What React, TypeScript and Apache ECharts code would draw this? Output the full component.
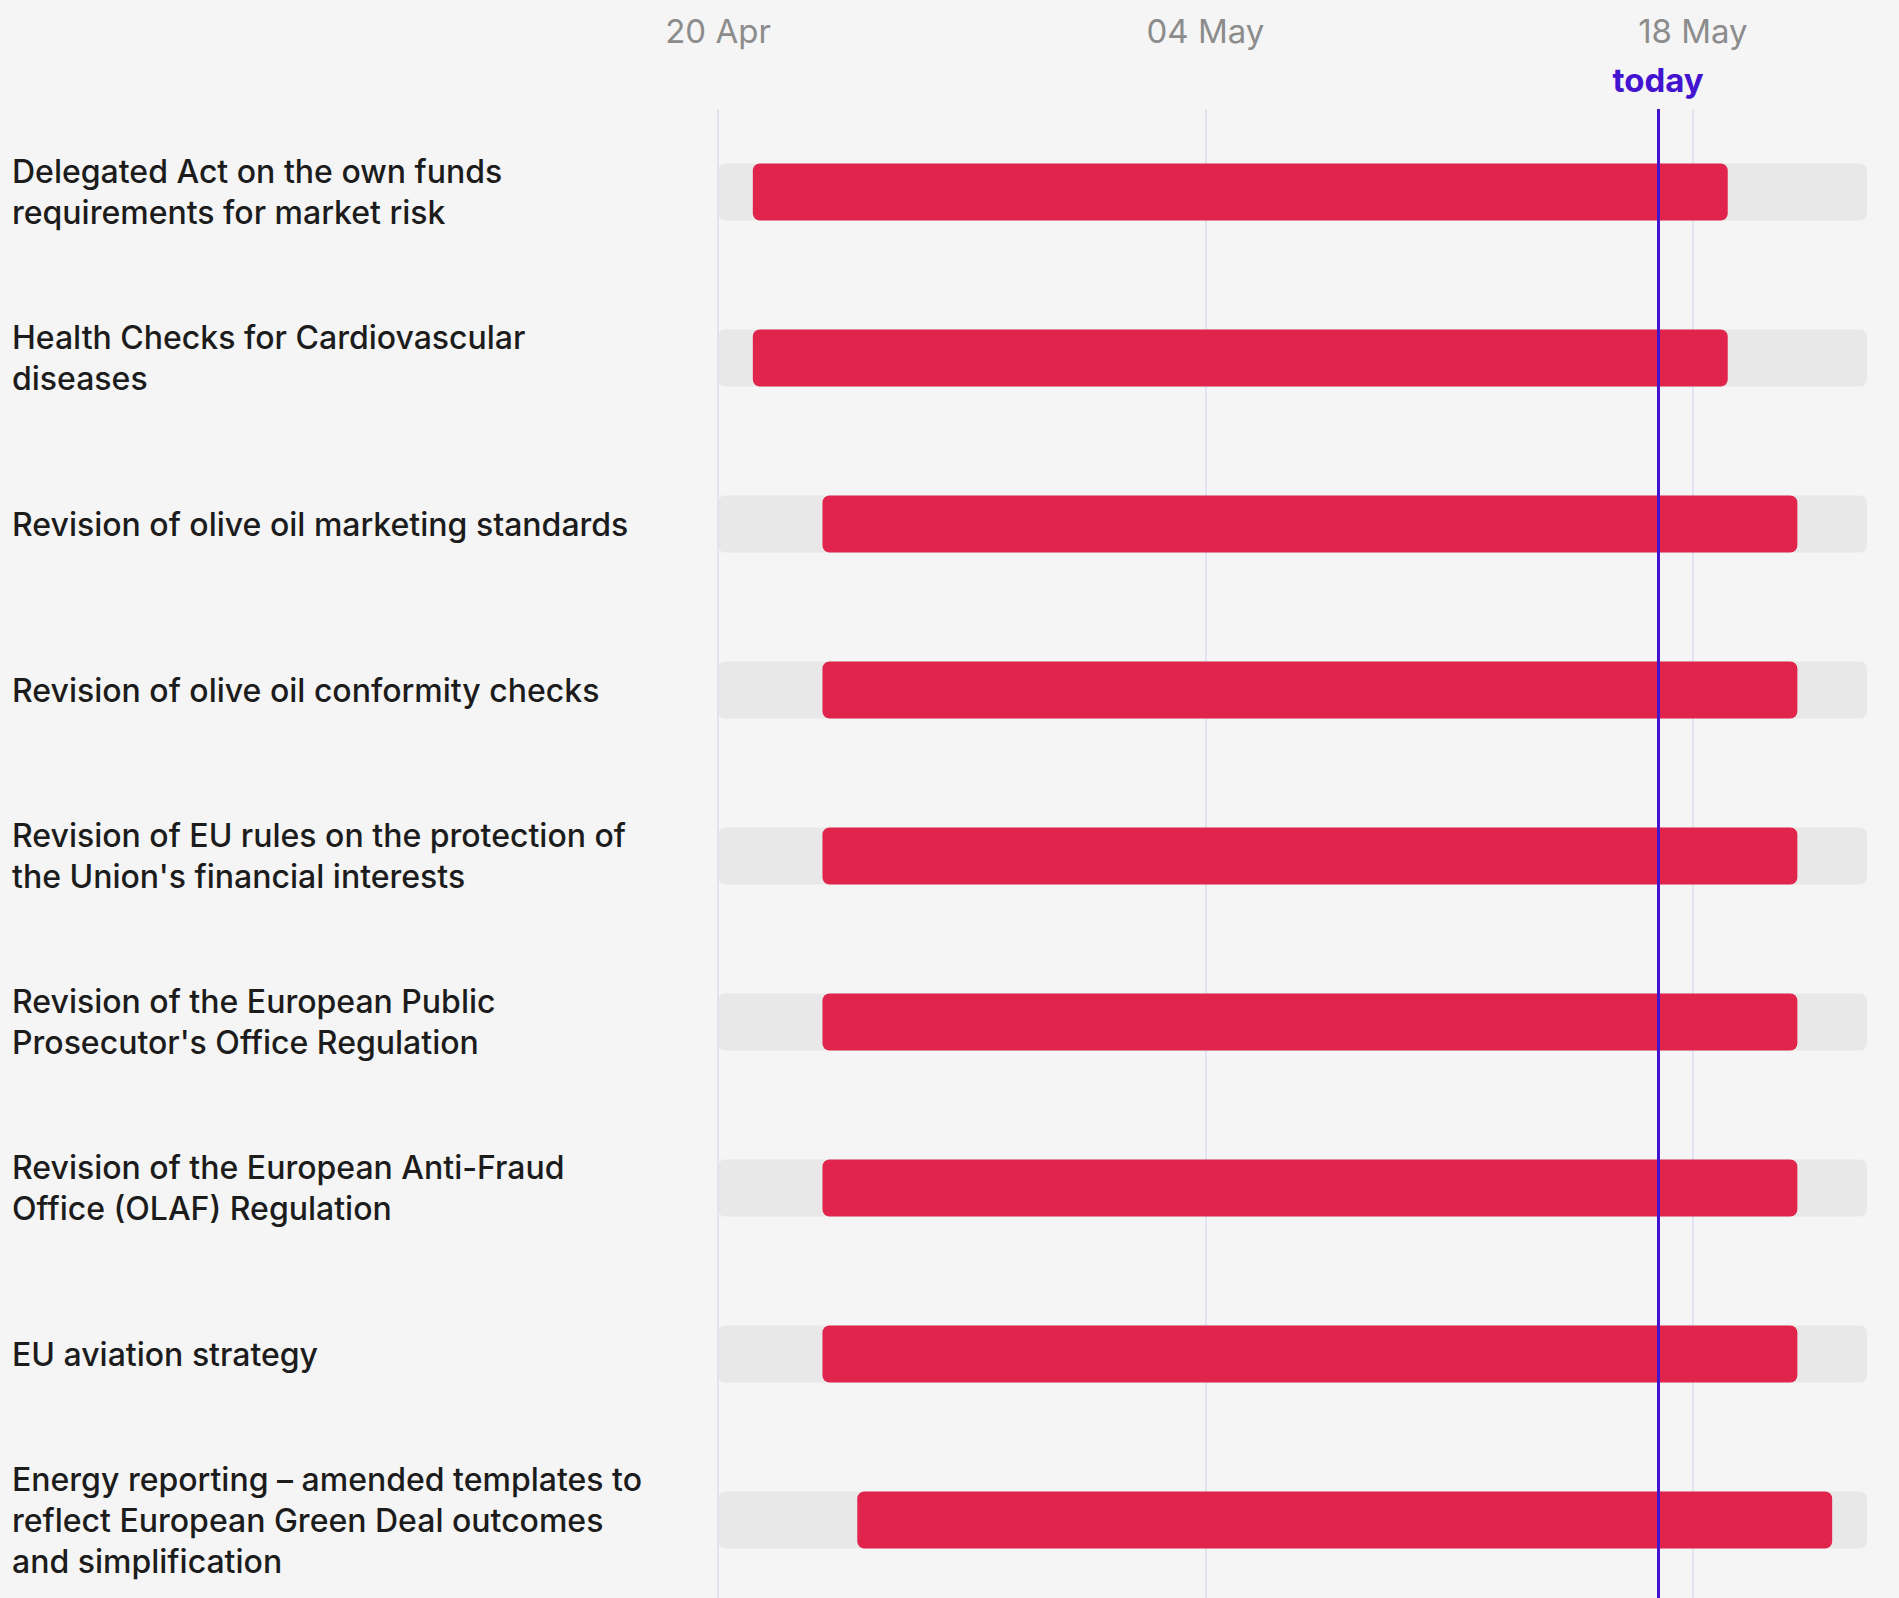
import React, { useEffect, useRef } from "react";
import * as echarts from "echarts";

const categories = [
  "Delegated Act on the own funds\nrequirements for market risk",
  "Health Checks for Cardiovascular\ndiseases",
  "Revision of olive oil marketing standards",
  "Revision of olive oil conformity checks",
  "Revision of EU rules on the protection of\nthe Union's financial interests",
  "Revision of the European Public\nProsecutor's Office Regulation",
  "Revision of the European Anti-Fraud\nOffice (OLAF) Regulation",
  "EU aviation strategy",
  "Energy reporting – amended templates to\nreflect European Green Deal outcomes\nand simplification",
];
const startDates = [
  "2025-04-21", "2025-04-21", "2025-04-23", "2025-04-23", "2025-04-23",
  "2025-04-23", "2025-04-23", "2025-04-23", "2025-04-24",
];
const endDates = [
  "2025-05-19", "2025-05-19", "2025-05-21", "2025-05-21", "2025-05-21",
  "2025-05-21", "2025-05-21", "2025-05-21", "2025-05-22",
];
const axisStart = "2025-04-20";
const axisEnd = "2025-05-23";
const tickDates = ["2025-04-20", "2025-05-04", "2025-05-18"];
const todayDate = "2025-05-17";
const todayLabel = "today";
const MONTHS = ["Jan", "Feb", "Mar", "Apr", "May", "Jun", "Jul", "Aug", "Sep", "Oct", "Nov", "Dec"];

const DAY = 86400000;
const dayOf = (s: string) => (Date.parse(s) - Date.parse(axisStart)) / DAY;
const fmt = (v: number) => {
  const d = new Date(Date.parse(axisStart) + v * DAY);
  const dd = String(d.getUTCDate()).padStart(2, "0");
  return dd + " " + MONTHS[d.getUTCMonth()];
};

const FONT = "Inter, 'Noto Sans', sans-serif";

export default function App() {
  const ref = useRef<HTMLDivElement>(null);
  useEffect(() => {
    if (!ref.current) return;
    const chart = echarts.init(ref.current, undefined, { renderer: "svg" });
    const maxDay = dayOf(axisEnd);
    const rectItem = (color: string, z: number) => (params: any, api: any) => {
      const cat = api.value(0);
      const s = api.coord([api.value(1), cat]);
      const e = api.coord([api.value(2), cat]);
      const h = api.size([0, 1])[1] * 0.343;
      return {
        type: "rect",
        z2: z,
        shape: { x: s[0], y: s[1] - h / 2, width: e[0] - s[0], height: h, r: 7 },
        style: { fill: color },
      };
    };
    chart.setOption({
      animation: false,
      backgroundColor: "#f5f5f5",
      grid: { left: 718, right: 32, top: 109, bottom: 3, containLabel: false },
      xAxis: {
        type: "value",
        position: "top",
        min: 0,
        max: maxDay,
        interval: 14,
        axisLine: { show: false },
        axisTick: { show: false },
        splitLine: { show: false },
        axisLabel: {
          showMaxLabel: false,
          margin: 62,
          fontSize: 33,
          color: "#8c8c8c",
          fontFamily: FONT,
          formatter: (v: number) => fmt(v),
        },
      },
      yAxis: {
        type: "category",
        inverse: true,
        data: categories,
        axisLine: { show: false },
        axisTick: { show: false },
        splitLine: { show: false },
        axisLabel: {
          align: "left",
          margin: 706,
          fontSize: 32,
          lineHeight: 41,
          fontWeight: 500,
          color: "#1c1c1c",
          fontFamily: FONT,
          padding: [0, 0, 7, 0],
        },
      },
      series: [
        {
          type: "custom",
          z: 1,
          renderItem: rectItem("#e8e8e8", 1),
          encode: { x: [1, 2], y: 0 },
          data: categories.map((_, i) => [i, 0, maxDay]),
        },
        {
          type: "line",
          z: 2,
          data: [],
          markLine: {
            z: 2,
            silent: true,
            symbol: ["none", "none"],
            label: { show: false },
            lineStyle: { color: "#dcdaf0", width: 1.5, type: "solid" },
            data: tickDates.map((d) => ({ xAxis: dayOf(d) })),
          },
        },
        {
          type: "custom",
          z: 3,
          renderItem: rectItem("#e0244c", 3),
          encode: { x: [1, 2], y: 0 },
          data: categories.map((_, i) => [i, dayOf(startDates[i]), dayOf(endDates[i])]),
          markLine: {
            z: 10,
            silent: true,
            symbol: ["none", "none"],
            lineStyle: { color: "#4314d0", width: 3, type: "solid" },
            label: {
              show: true,
              position: "start",
              distance: 13,
              formatter: todayLabel,
              color: "#4314d0",
              fontSize: 33,
              fontWeight: 700,
              fontFamily: FONT,
            },
            data: [{ xAxis: dayOf(todayDate) }],
          },
        },
      ],
    });
    return () => chart.dispose();
  }, []);
  return (
    <div
      style={{
        position: "fixed",
        left: 0,
        top: 0,
        width: 1899,
        height: 1598,
        overflow: "hidden",
        background: "#f5f5f5",
      }}
    >
      <div ref={ref} style={{ width: 1899, height: 1606 }} />
    </div>
  );
}
